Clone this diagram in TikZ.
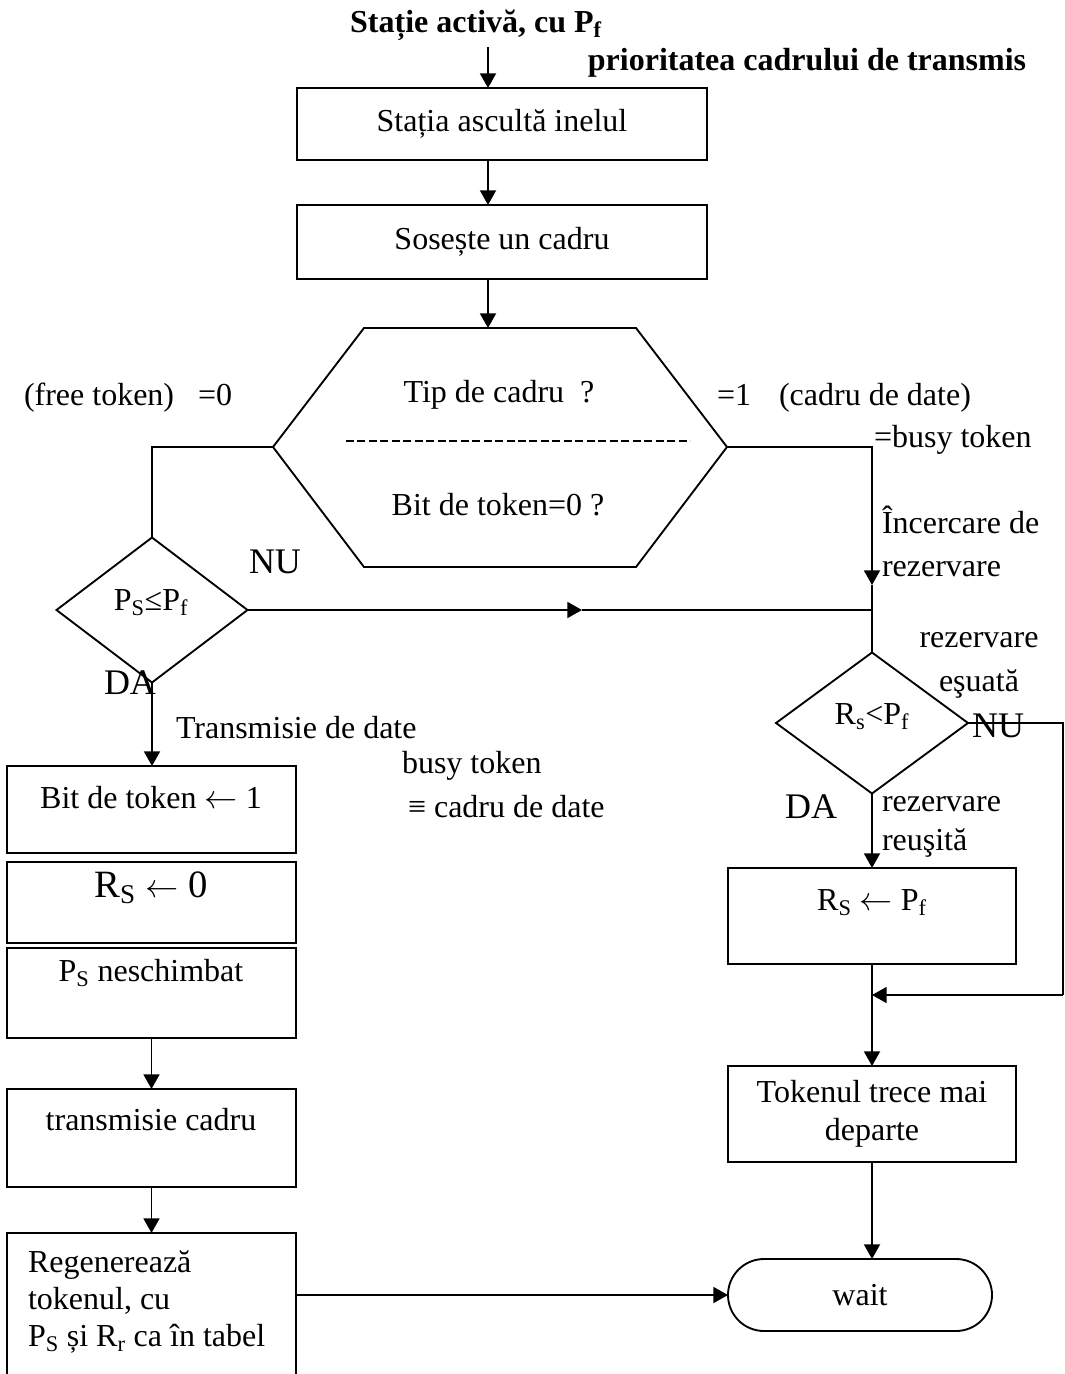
\documentclass[tikz,border=0pt]{standalone}
\usepackage{fontspec}
\setmainfont{Liberation Serif}
\usetikzlibrary{arrows.meta,shapes.geometric,shapes.misc}
\newcommand\lsub[1]{\textsubscript{#1}}
\newcommand\larr{\ensuremath{\leftarrow}}
\begin{document}
\begin{tikzpicture}[x=0.75pt,y=-0.75pt,
  every node/.style={font=\fontsize{24}{29}\selectfont, inner sep=0pt, outer sep=0pt},
  ln/.style={line width=1.4pt},
  arr/.style={ln, -{Triangle[length=11pt,width=12pt]}},
  boxn/.style={draw, rectangle, ln, minimum width=216.75pt},
  big/.style={font=\fontsize{27}{32}\selectfont},
  lbl/.style={anchor=west, align=left}]
\useasboundingbox (0,0) rectangle (1064,1374);
\clip (0,0) rectangle (1064,1374);

% top
\node[font=\bfseries\fontsize{24}{29}\selectfont] (t0) at (476,25) {Stație activă, cu P\lsub{f}};
\node[font=\bfseries\fontsize{24}{29}\selectfont] (t1) at (807,63) {prioritatea cadrului de transmis};
\coordinate (s0) at (488,47);
\node[draw, ln, minimum width=307.5pt, minimum height=54pt] (b1) at (502,124) {Stația ascultă inelul};
\node[draw, ln, minimum width=307.5pt, minimum height=55.5pt] (b2) at (502,242) {Sosește un cadru};
\draw[arr] (s0) -- (s0 |- b1.north);
\draw[arr] (b1.south -| s0) -- (b2.north -| s0);

% hexagon
\coordinate (hT1) at (364,328);
\coordinate (hT2) at (636,328);
\coordinate (hR) at (727,447);
\coordinate (hB2) at (636,567);
\coordinate (hB1) at (364,567);
\coordinate (hL) at (273,447);
\coordinate (hT) at (488,328);
\draw[ln] (hT1) -- (hT2) -- (hR) -- (hB2) -- (hB1) -- (hL) -- cycle;
\draw[arr] (b2.south -| s0) -- (hT);
\node (q1) at (499,395) {Tip de cadru\ \ ?};
\node (q2) at (498,505) {Bit de token=0 ?};
\coordinate (dl1) at (346,441);
\coordinate (dl2) at (690,441);
\draw[line width=1.8pt, dash pattern=on 6pt off 2.6pt] (dl1) -- (dl2);

% left branch
\node[lbl] (ft) at (24,398) {(free token)\hspace{18pt}=0};
\node[diamond, draw, ln, minimum width=143.25pt, minimum height=108.75pt] (d1) at (152,610) {};
\node (d1t) at (151,603) {P\lsub{S}≤P\lsub{f}};
\draw[ln] (hL) -| (d1.north);
\node[big] (nu1) at (275,562) {NU};
\node[big] (da1) at (130,683) {DA};
\coordinate (m1) at (582,610);
\coordinate (jn) at (872,610);
\draw[arr] (d1.east) -- (m1);
\draw[ln] (m1) -- (jn);

% right branch
\node[lbl] (ct) at (717,398) {=1\hspace{21pt}(cadru de date)};
\node[lbl] (bt) at (874,440) {=busy token};
\node[lbl, font=\fontsize{24}{32}\selectfont] (ir) at (882,541.5) {Încercare de\\rezervare};
\coordinate (ta) at (872,585);
\node[diamond, draw, ln, minimum width=144pt, minimum height=105.75pt] (d2) at (872,723) {};
\node (d2t) at (872,717) {R\lsub{s}<P\lsub{f}};
\draw[arr] (hR) -| (ta);
\draw[ln] (ta) -- (jn) -- (d2.north);
\node[align=center, font=\fontsize{24}{33}\selectfont] (re) at (979,665) {rezervare\\eşuată};
\node[big] (nu2) at (998,726) {NU};
\node[big] (da2) at (811,807) {DA};
\node[lbl] (rr) at (882,827) {rezervare\\reuşită};
\coordinate (nr) at (1063,723);
\coordinate (nb) at (1063,995);
\draw[ln] (d2.east) -- (nr) -- (nb);
\draw[arr] (nb) -- (nb -| d2.south);

\node[boxn, minimum width=216pt, minimum height=72pt] (b6) at (872,916) {};
\node (b6t) at (872,903) {R\lsub{S} \larr{} P\lsub{f}};
\draw[arr] (d2.south) -- (b6.north);
\node[boxn, minimum width=216pt, minimum height=72pt, align=center, font=\fontsize{24}{28.5}\selectfont] (b7) at (872,1114) {Tokenul trece mai\\departe};
\draw[arr] (b6.south) -- (b7.north);
\node[rounded rectangle, draw, ln, minimum width=198pt, minimum height=54pt] (w) at (860,1295) {wait};
\draw[arr] (b7.south) -- (b7.south |- w.north);

% left column
\node[boxn, minimum height=65.25pt] (b3a) at (151.5,809.5) {};
\node (b3at) at (151,798) {Bit de token \larr{} 1};
\node[boxn, minimum height=60.75pt] (b3b) at (151.5,902.5) {};
\node[font=\fontsize{29}{34}\selectfont] (b3bt) at (151,888) {R\lsub{S} \larr{} 0};
\node[boxn, minimum height=67.5pt] (b3c) at (151.5,993) {};
\node (b3ct) at (151,973) {P\lsub{S} neschimbat};
\draw[arr] (d1.south) -- (d1.south |- b3a.north);
\node[lbl] (td) at (176,728) {Transmisie de date};
\node[lbl] (bz) at (402,766) {busy token};
\node[lbl] (eq) at (408,807) {≡ cadru de date};
\node[boxn, minimum height=73.5pt] (b4) at (151.5,1138) {};
\node (b4t) at (151,1120) {transmisie cadru};
\draw[arr] (b3c.south) -- (b4.north);
\node[boxn, minimum height=142.5pt] (b5) at (151.5,1328) {};
\node[lbl, font=\fontsize{24}{27.5}\selectfont] (b5t) at (28,1302) {Regenerează\\tokenul, cu\\P\lsub{S} și R\lsub{r} ca în tabel};
\draw[arr] (b4.south) -- (b5.north);
\draw[arr] (b5.east |- w.west) -- (w.west);
\end{tikzpicture}
\end{document}
